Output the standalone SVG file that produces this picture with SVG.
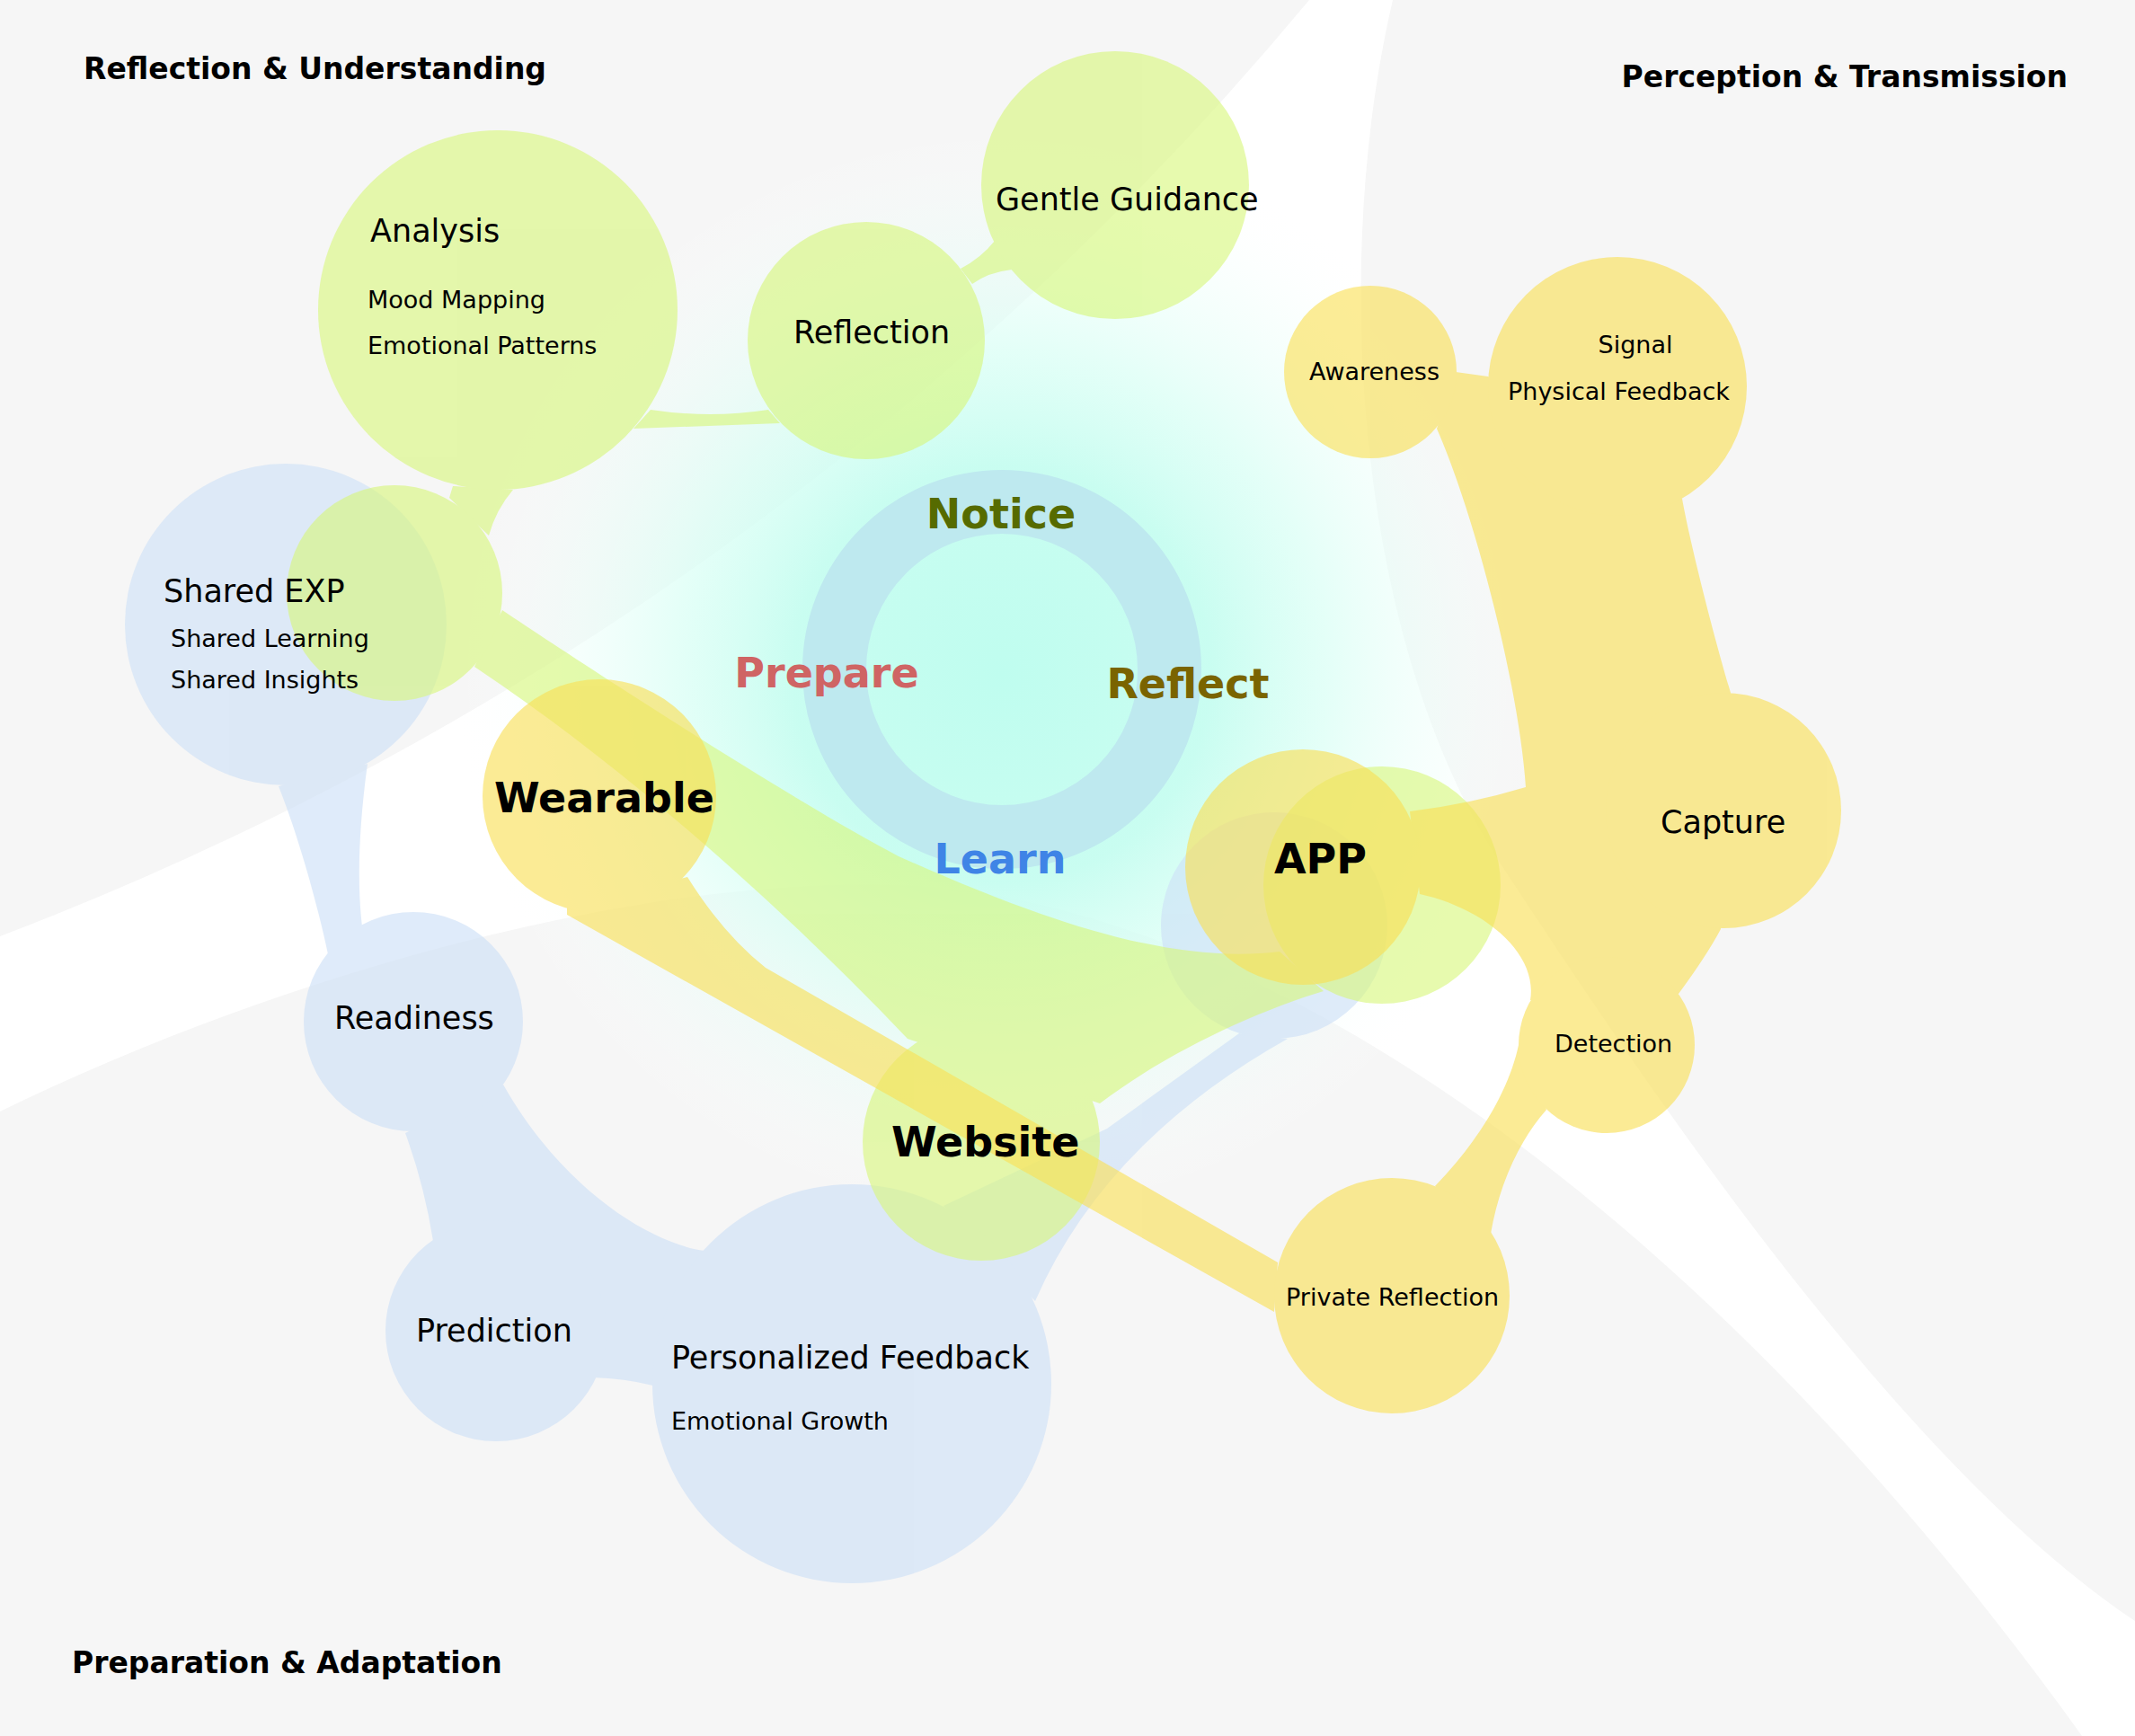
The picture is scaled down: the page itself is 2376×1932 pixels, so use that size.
<svg xmlns="http://www.w3.org/2000/svg" width="2376" height="1932" viewBox="0 0 2376 1932">
<defs>
<radialGradient id="glow" cx="1115" cy="750" r="610" gradientUnits="userSpaceOnUse">
<stop offset="0" stop-color="#bffdef" stop-opacity="1"/>
<stop offset="0.38" stop-color="#c6fdf0" stop-opacity="0.95"/>
<stop offset="0.6" stop-color="#dafff5" stop-opacity="0.72"/>
<stop offset="0.82" stop-color="#eefffa" stop-opacity="0.38"/>
<stop offset="1" stop-color="#ffffff" stop-opacity="0"/>
</radialGradient>
<style>
.t{font-family:"DejaVu Sans","Liberation Sans",sans-serif;fill:#000}
.title{font-size:33px;font-weight:bold}
.lg{font-size:35px}
.sm{font-size:27px}
.big{font-size:46px;font-weight:bold}
.c{text-anchor:middle}
.blue{fill:#cde0f7}
.green{fill:#d8f77c}
.yellow{fill:#fae055}
.region{fill:#f6f6f6}
</style>
</defs>
<rect width="2376" height="1932" fill="#ffffff"/>
<g id="regions">
<path class="region" d="M0,0 L1457,0 A3523,3523 0 0 1 0,1042 Z"/>
<path class="region" d="M1550,0 L2376,0 L2376,1804 C2100,1620 1803,1163 1673,966 C1510,720 1480,300 1550,0 Z"/>
<path class="region" d="M0,1237 C300,1090 700,975 1000,985 C1400,1000 1900,1350 2317,1932 L0,1932 Z"/>
</g>
<circle id="glow-area" cx="1115" cy="750" r="610" fill="url(#glow)"/>
<g id="cycle">
<circle cx="1115" cy="745" r="186.5" fill="none" stroke="#bee9ef" stroke-width="71"/>
</g>
<g id="cluster-blue" opacity="0.62">
<g id="connectors-blue" class="blue">
<path d="M310,875 C330,925 352,1000 365,1062 L403,1031 C398,990 398,930 409,850 Z"/>
<path d="M451,1261 Q472,1318 482,1381 L660,1533 Q695,1534 727,1542 L784,1392 C730,1385 630,1330 560,1207 Z"/>
<path d="M1152,1448 Q1230,1270 1433,1156 L1379,1150 L1232,1256 L1050,1342 Z"/>
</g>
<g id="node-shared-exp-blue" class="blue"><circle cx="318" cy="695" r="179"/></g>
<g id="node-readiness" class="blue"><circle cx="460" cy="1137" r="122"/></g>
<g id="node-prediction" class="blue"><circle cx="552" cy="1481" r="123"/></g>
<g id="node-personalized-feedback" class="blue"><circle cx="948" cy="1540" r="222"/></g>
<g id="node-app-blue" class="blue"><circle cx="1418" cy="1030" r="126"/></g>
</g>
<g id="cluster-green" opacity="0.62">
<g id="connectors-green" class="green">
<path d="M724,456 Q790,466 855,456 L868,471 L705,477 Z"/>
<path d="M1069,299 Q1092,287 1107,268 L1126,300 Q1100,303 1082,316 Z"/>
<path d="M504,541 L500,554 L544,596 Q552,567 571,545 Z"/>
<path d="M559,679 C650,740 880,890 1000,953 C1150,1020 1300,1075 1424,1059 L1473,1103 C1400,1125 1300,1170 1224,1228 L1010,1156 C900,1040 720,870 528,742 Z"/>
</g>
<g id="node-analysis" class="green"><circle cx="554" cy="345" r="200"/></g>
<g id="node-reflection" class="green"><circle cx="964" cy="379" r="132"/></g>
<g id="node-gentle-guidance" class="green"><circle cx="1241" cy="206" r="149"/></g>
<g id="node-shared-exp-green" class="green"><circle cx="439" cy="660" r="120"/></g>
<g id="node-website" class="green"><circle cx="1092" cy="1271" r="132"/></g>
<g id="node-app-green" class="green"><circle cx="1538" cy="985" r="132"/></g>
</g>
<g id="cluster-yellow" opacity="0.62">
<g id="connectors-yellow" class="yellow">
<path d="M1569,903 Q1635,895 1698,876 C1690,760 1640,570 1599,477 L1620,414 L1656,419 L1872,555 C1880,600 1905,700 1926,771 L1915,1034 Q1899,1064 1868,1106 L1703,1113 C1712,1060 1650,1010 1580,995 Z"/>
<path d="M1690,1163 C1680,1210 1650,1265 1597,1320 L1659,1373 C1668,1320 1690,1270 1721,1235 Z"/>
<path d="M765,976 Q805,1040 852,1077 L1422,1405 L1418,1460 L631,1018 L631,1010 Z"/>
</g>
<g id="node-awareness" class="yellow"><circle cx="1525" cy="414" r="96"/></g>
<g id="node-signal" class="yellow"><circle cx="1800" cy="430" r="144"/></g>
<g id="node-capture" class="yellow"><circle cx="1918" cy="902" r="131"/></g>
<g id="node-detection" class="yellow"><circle cx="1788" cy="1163" r="98"/></g>
<g id="node-private-reflection" class="yellow"><circle cx="1549" cy="1442" r="131"/></g>
<g id="node-wearable" class="yellow"><circle cx="667" cy="886" r="130"/></g>
<g id="node-app-yellow" class="yellow"><circle cx="1450" cy="965" r="131"/></g>
</g>
<g id="labels" class="t">
<text class="t title" x="93" y="88">Reflection &amp; Understanding</text>
<text class="t title" x="2301" y="97" text-anchor="end">Perception &amp; Transmission</text>
<text class="t title" x="80" y="1862">Preparation &amp; Adaptation</text>
<text class="t lg" x="412" y="269">Analysis</text>
<text class="t sm" x="409" y="343">Mood Mapping</text>
<text class="t sm" x="409" y="394">Emotional Patterns</text>
<text class="t lg" x="883" y="382">Reflection</text>
<text class="t lg" x="1108" y="234">Gentle Guidance</text>
<text class="t lg" x="182" y="670">Shared EXP</text>
<text class="t sm" x="190" y="720">Shared Learning</text>
<text class="t sm" x="190" y="766">Shared Insights</text>
<text class="t big" x="550" y="904">Wearable</text>
<text class="t big" x="992" y="1287">Website</text>
<text class="t big" x="1418" y="972">APP</text>
<text class="t sm" x="1457" y="423">Awareness</text>
<text class="t sm c" x="1820" y="393">Signal</text>
<text class="t sm" x="1678" y="445">Physical Feedback</text>
<text class="t lg" x="1848" y="927">Capture</text>
<text class="t sm" x="1730" y="1171">Detection</text>
<text class="t sm" x="1431" y="1453">Private Reflection</text>
<text class="t lg" x="372" y="1145">Readiness</text>
<text class="t lg" x="463" y="1493">Prediction</text>
<text class="t lg" x="747" y="1523">Personalized Feedback</text>
<text class="t sm" x="747" y="1591">Emotional Growth</text>
<text class="t big c" x="1114" y="588" style="fill:#566b00">Notice</text>
<text class="t big c" x="920" y="765" style="fill:#cf6464">Prepare</text>
<text class="t big c" x="1322" y="777" style="fill:#7a6400">Reflect</text>
<text class="t big c" x="1113" y="972" style="fill:#3f84e6">Learn</text>
</g>
</svg>
